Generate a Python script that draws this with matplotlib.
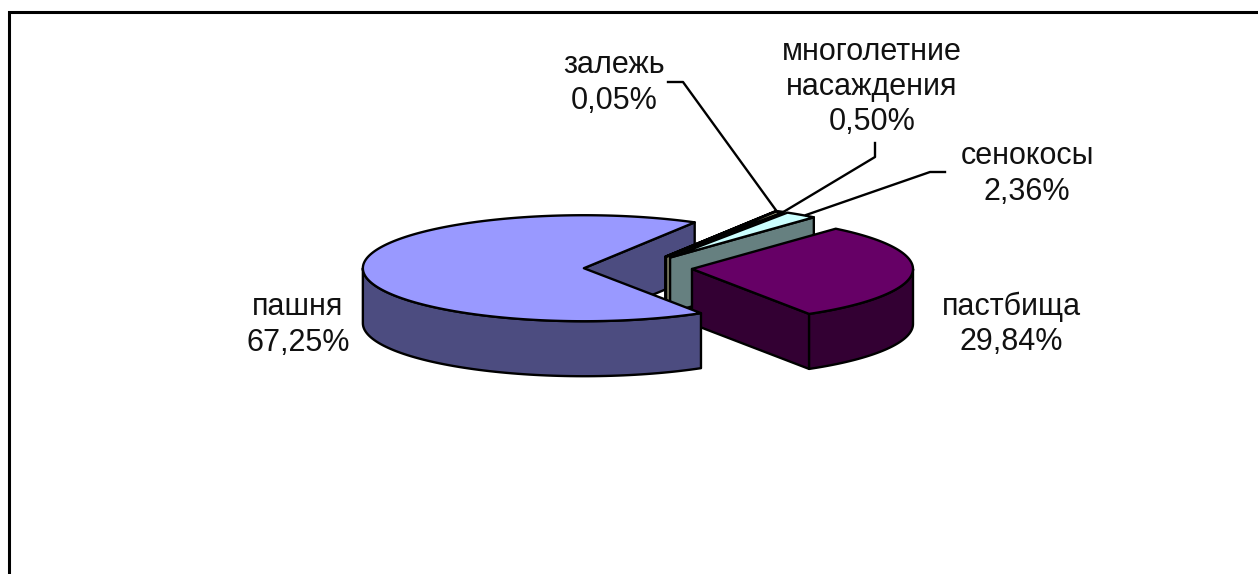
import numpy as np
import matplotlib
matplotlib.use("Agg")
from matplotlib import pyplot as plt
from matplotlib.patches import Polygon

plt.rcParams['font.family'] = ['Liberation Sans', 'DejaVu Sans']

# clockwise from the first slice, as in the source chart
names = ['пашня', 'залежь', 'многолетние\nнасаждения', 'сенокосы', 'пастбища']
shares = [67.25, 0.05, 0.50, 2.36, 29.84]
top_colors = ['#9999FF', '#993366', '#FFFFCC', '#CCFFFF', '#660066']
side_colors = ['#4C4C80', '#4C1933', '#808066', '#668080', '#330033']

label_pos = [(298, 325), (614, 83), (872, 87), (1027, 174), (1011, 324)]
leaders = [None,
           [(668, 82), (683, 82), (778, 213)],
           [(875, 143), (875, 157), (780, 214)],
           [(945, 172), (930, 172), (806, 215)],
           None]

# pie geometry in pixels
W, H = 1258, 574
cx, cy = 638, 268
rx, ry = 221, 53
depth = 55
explode = 0.245
start = 302


def rim(c, t):
    t = np.radians(t)
    return np.column_stack([c[0] + rx * np.cos(t), c[1] - ry * np.sin(t)])


def shift(pts):
    return pts + np.array([0, depth])


def face(ax, pts, color):
    ax.add_patch(Polygon(pts, closed=True, facecolor=color, edgecolor='black',
                         linewidth=1.7, joinstyle='round'))


fig = plt.figure(figsize=(W / 100, H / 100), dpi=100)
ax = fig.add_axes([0, 0, 1, 1])
ax.set_xlim(0, W)
ax.set_ylim(H, 0)
ax.axis('off')

# frame: only left and top edges are inside the picture
ax.plot([9, 9, W], [H, 12, 12], color='black', lw=2.2, solid_joinstyle='miter')

slices = []
t = start
for s in shares:
    a, b = t - s * 3.6, t
    mid = np.radians((a + b) / 2)
    tip = (cx + explode * rx * np.cos(mid), cy - explode * ry * np.sin(mid))
    slices.append((a, b, tip))
    t = a


def cut_face(i):
    a, b, tip = slices[i]
    p = np.vstack([tip, rim(tip, [a])])
    face(ax, np.vstack([p, shift(p)[::-1]]), side_colors[i])


def outer_face(i):
    a, b, tip = slices[i]
    for lo, hi in [(-180, 0), (180, 360)]:
        l, h = max(a, lo), min(b, hi)
        if l < h:
            p = rim(tip, np.linspace(l, h, 80))
            face(ax, np.vstack([p, shift(p)[::-1]]), side_colors[i])


def top_face(i):
    a, b, tip = slices[i]
    p = rim(tip, np.linspace(a, b, max(3, int(b - a) * 2)))
    face(ax, np.vstack([tip, p]), top_colors[i])


# painter's order: back of the first slice, the small ones, then the front
cut_face(0)
for i in [1, 2, 3, 4]:
    cut_face(i)
    outer_face(i)
    top_face(i)
outer_face(0)
top_face(0)

for pts in leaders:
    if pts:
        xs, ys = zip(*pts)
        ax.plot(xs, ys, color='black', lw=1.7)

for name, s, (x, y) in zip(names, shares, label_pos):
    txt = name + '\n' + f'{s:.2f}'.replace('.', ',') + '%'
    ax.text(x, y, txt, ha='center', va='center', fontsize=22, color='#111111',
            linespacing=1.22)

fig.savefig('out.png', dpi=100)
